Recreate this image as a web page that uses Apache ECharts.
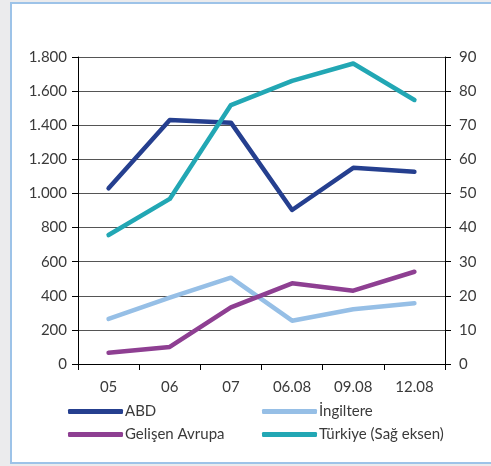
<!DOCTYPE html>
<html>
<head>
<meta charset="utf-8">
<script src="https://cdn.jsdelivr.net/npm/echarts@6/dist/echarts.min.js"></script>
<style>
  html, body { margin: 0; padding: 0; background: #ebebed; overflow: hidden; }
  #frame {
    position: absolute; left: 10px; top: 2px; width: 490px; height: 462px;
    border: 2.5px solid #9dc3e8; border-right: none; background: #fff; box-sizing: border-box;
  }
  #chart { position: absolute; left: 0; top: 0; width: 491px; height: 466px; }
</style>
</head>
<body>
<div id="frame"></div>
<div id="chart"></div>
<script>
// Periods on the horizontal axis
const categories = ['05', '06', '07', '06.08', '09.08', '12.08'];

// Left axis series
const abd = [1030, 1430, 1415, 903, 1150, 1127];
const ingiltere = [264, 389, 506, 254, 321, 356];
const gelisenAvrupa = [66, 100, 332, 473, 430, 541];

// Right axis series
const turkiye = [37.8, 48.4, 75.9, 83.0, 88.1, 77.4];

const leftTicks = { min: 0, max: 1800, interval: 200 };
const rightTicks = { min: 0, max: 90, interval: 10 };

const textColor = '#3a3a3a';
const fontFamily = 'Lato, "Open Sans", sans-serif';

function thousands(v) {
  return String(v).replace(/\B(?=(\d{3})+(?!\d))/g, '.');
}

const chart = echarts.init(document.getElementById('chart'), null, { renderer: 'canvas' });

function lineSeries(name, data, color, yAxisIndex) {
  return {
    name, type: 'line', data, yAxisIndex,
    symbol: 'none',
    lineStyle: { color, width: 4.5, cap: 'round', join: 'round' },
    itemStyle: { color },
    animation: false
  };
}

const legendBase = {
  top: 399, orient: 'vertical', itemGap: 8,
  itemWidth: 55, itemHeight: 5, icon: 'roundRect',
  textStyle: { color: textColor, fontSize: 15, fontFamily, padding: [0, 0, 0, -3] }
};

chart.setOption({
  backgroundColor: 'transparent',
  textStyle: { fontFamily, color: textColor },
  grid: { left: 78, right: 46, top: 57, bottom: 102 },
  xAxis: {
    type: 'category', data: categories, boundaryGap: true,
    axisLine: { lineStyle: { color: '#000', width: 1 } },
    axisTick: { show: true, length: 6, lineStyle: { color: '#000' } },
    axisLabel: { color: textColor, fontSize: 15, fontFamily, margin: 16 }
  },
  yAxis: [
    {
      type: 'value', position: 'left', ...leftTicks,
      axisLine: { show: true, lineStyle: { color: '#000' } },
      axisTick: { show: true, length: 6, lineStyle: { color: '#000' } },
      splitLine: { show: true, lineStyle: { color: '#555', width: 1 } },
      axisLabel: { color: textColor, fontSize: 15, fontFamily, margin: 11, formatter: thousands }
    },
    {
      type: 'value', position: 'right', ...rightTicks,
      axisLine: { show: true, lineStyle: { color: '#000' } },
      axisTick: { show: true, length: 6, lineStyle: { color: '#000' } },
      splitLine: { show: false },
      axisLabel: { color: textColor, fontSize: 15, fontFamily, margin: 14 }
    }
  ],
  legend: [
    { ...legendBase, left: 63, data: ['ABD', 'Gelişen Avrupa'] },
    { ...legendBase, left: 257, data: ['İngiltere', 'Türkiye (Sağ eksen)'] }
  ],
  series: [
    lineSeries('ABD', abd, '#253f8f', 0),
    lineSeries('İngiltere', ingiltere, '#96bfe6', 0),
    lineSeries('Gelişen Avrupa', gelisenAvrupa, '#8e3f92', 0),
    lineSeries('Türkiye (Sağ eksen)', turkiye, '#22a7b4', 1)
  ]
});
</script>
</body>
</html>
